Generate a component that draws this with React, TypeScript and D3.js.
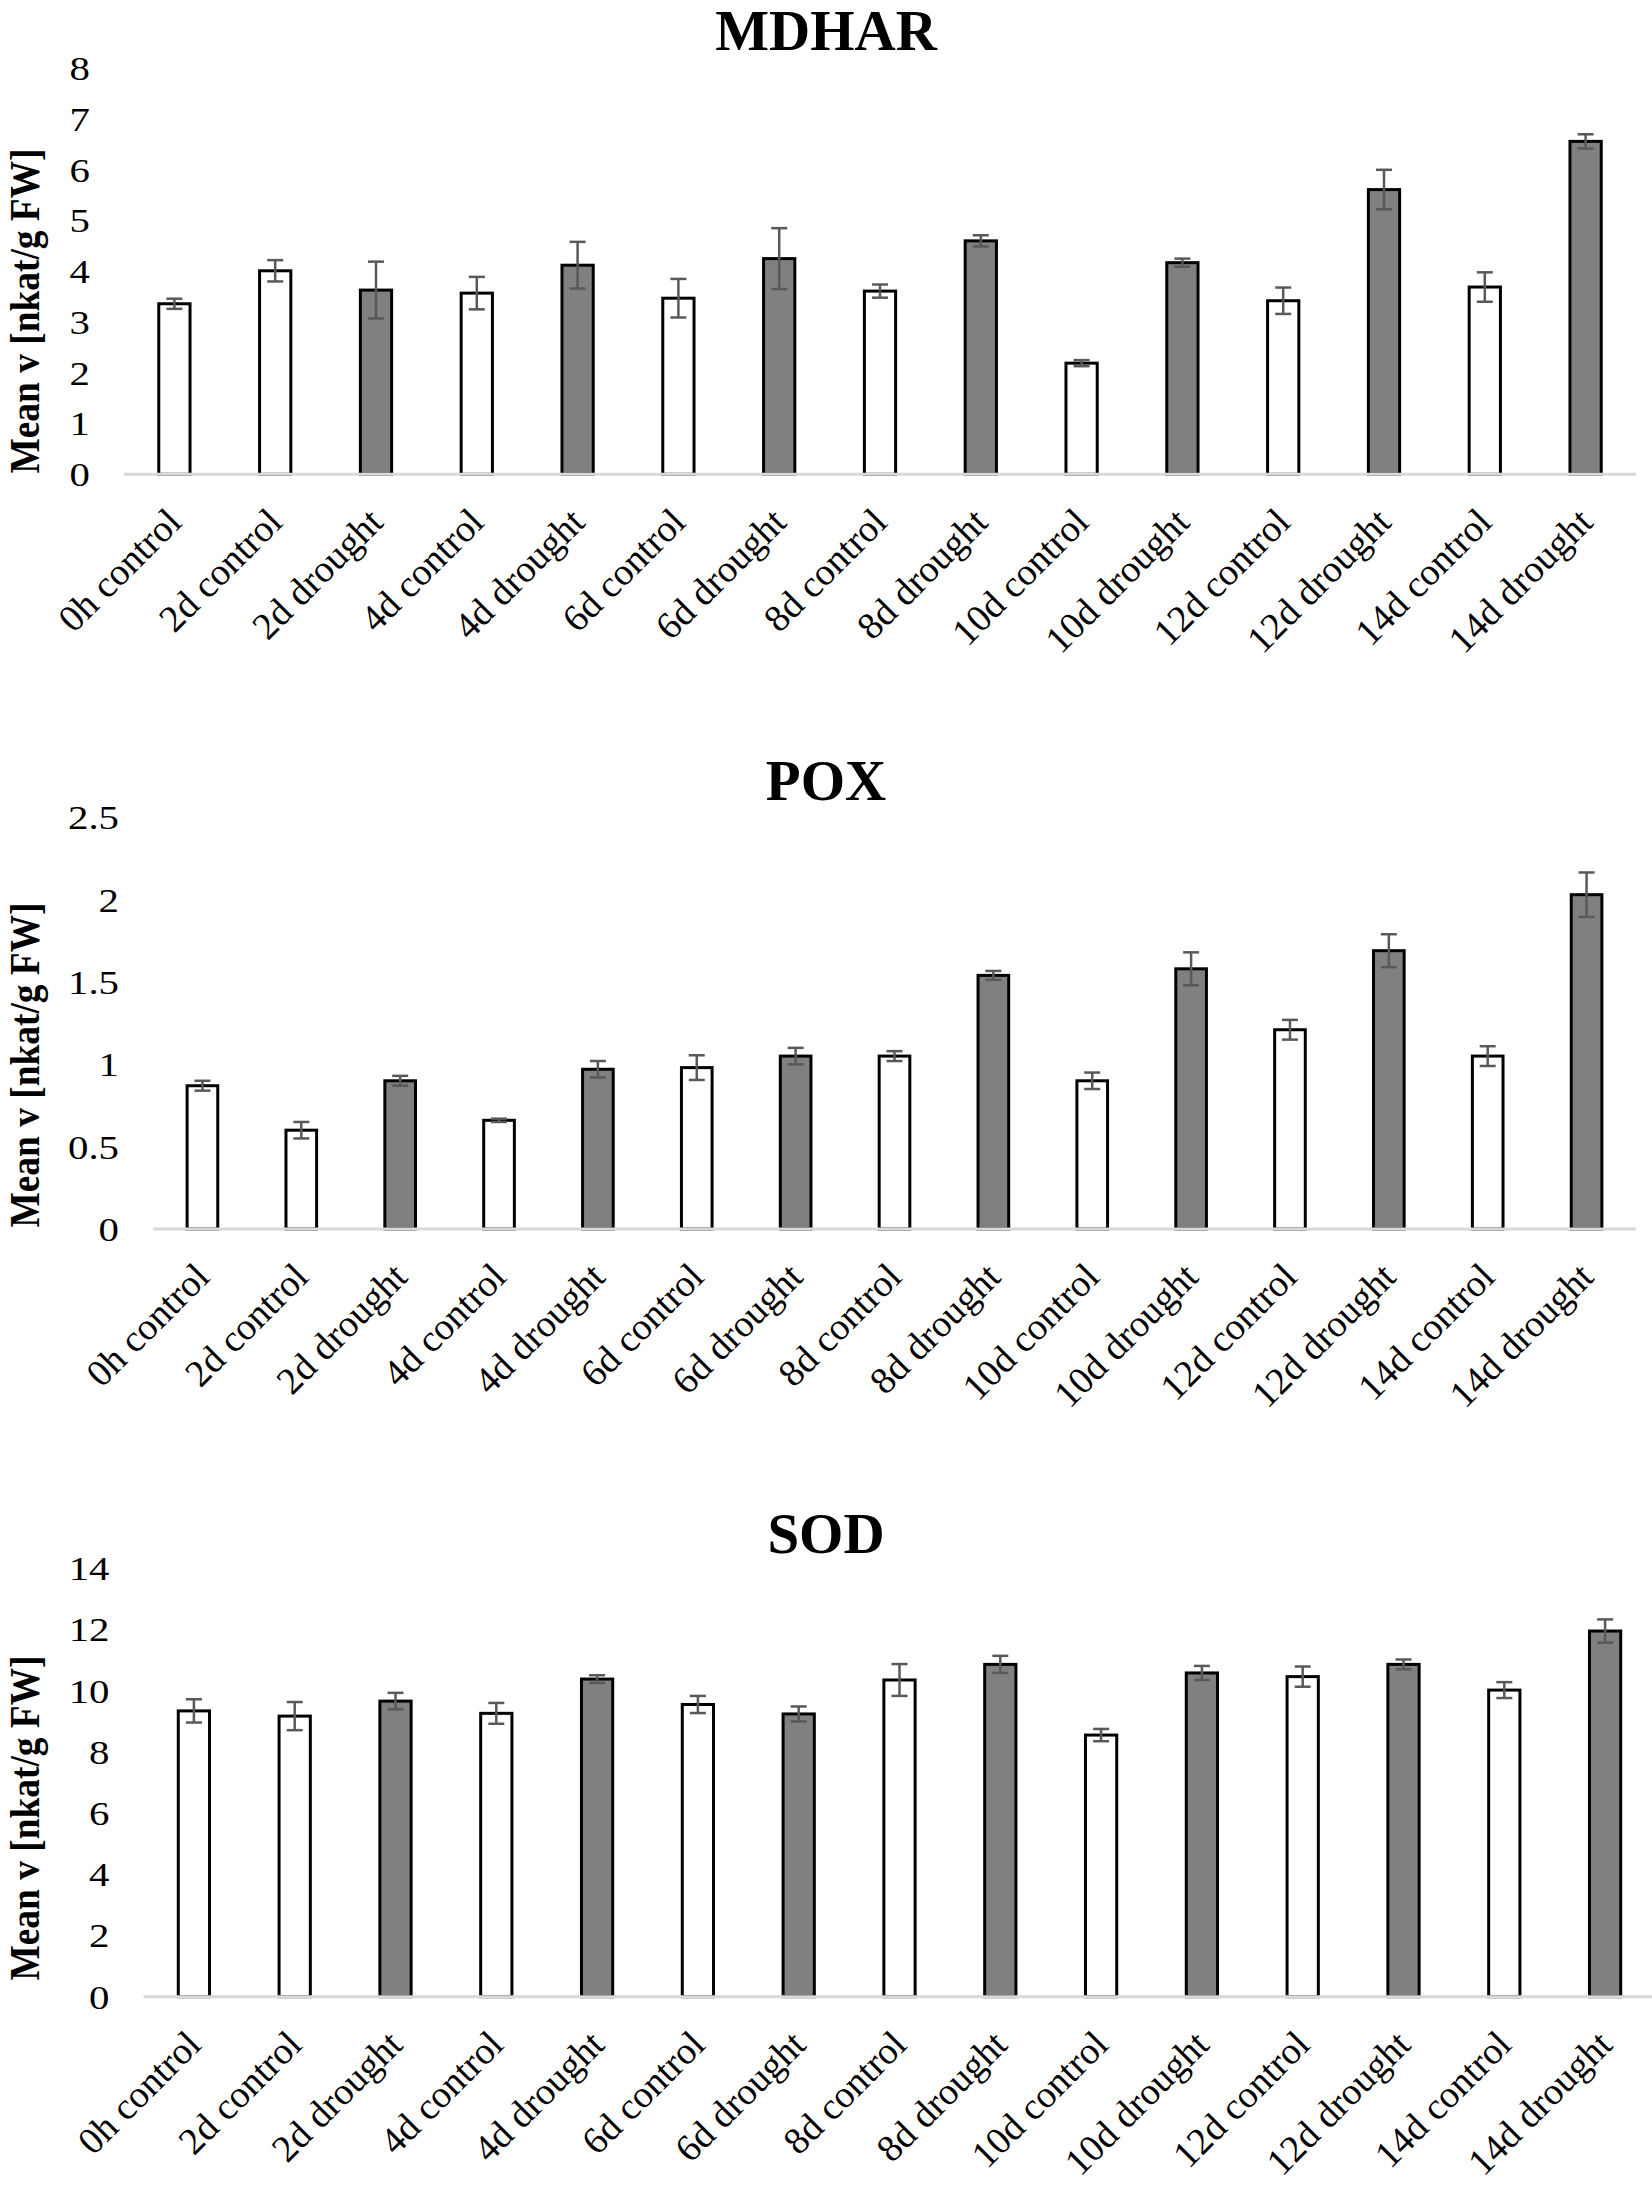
import React from 'react';
import * as d3 from 'd3';

// sampling points (same for all three enzymes)
const categories = [
  '0h control', '2d control', '2d drought', '4d control', '4d drought',
  '6d control', '6d drought', '8d control', '8d drought', '10d control',
  '10d drought', '12d control', '12d drought', '14d control', '14d drought',
];

const mdharMean = [3.36, 4.01, 3.63, 3.57, 4.12, 3.47, 4.25, 3.61, 4.6, 2.19, 4.17, 3.42, 5.61, 3.69, 6.56];
const mdharErr = [0.1, 0.21, 0.56, 0.32, 0.46, 0.38, 0.6, 0.13, 0.11, 0.06, 0.08, 0.26, 0.39, 0.29, 0.14];

const poxMean = [0.87, 0.6, 0.9, 0.66, 0.97, 0.98, 1.05, 1.05, 1.54, 0.9, 1.58, 1.21, 1.69, 1.05, 2.03];
const poxErr = [0.03, 0.05, 0.03, 0.01, 0.05, 0.075, 0.05, 0.03, 0.027, 0.05, 0.1, 0.06, 0.1, 0.06, 0.135];

const sodMean = [9.34, 9.17, 9.66, 9.26, 10.38, 9.55, 9.24, 10.35, 10.86, 8.55, 10.58, 10.46, 10.86, 10.02, 11.95];
const sodErr = [0.38, 0.46, 0.27, 0.34, 0.125, 0.28, 0.245, 0.52, 0.28, 0.2, 0.23, 0.33, 0.16, 0.26, 0.38];

const mdharTicks = [0, 1, 2, 3, 4, 5, 6, 7, 8];
const poxTicks = [0, 0.5, 1, 1.5, 2, 2.5];
const sodTicks = [0, 2, 4, 6, 8, 10, 12, 14];

const yTitle = 'Mean v [nkat/g FW]';
const FONT = '"Liberation Serif", "Times New Roman", serif';

interface Layout {
  titleY: number;
  x0: number;
  x1: number;
  base: number;
  top: number;
  labelY: number;
}

interface PanelProps {
  title: string;
  means: number[];
  errs: number[];
  ticks: number[];
  layout: Layout;
}

const Panel: React.FC<PanelProps> = ({ title, means, errs, ticks, layout }) => {
  const x = d3.scaleBand<string>()
    .domain(categories)
    .range([layout.x0, layout.x1])
    .paddingInner(0.69)
    .paddingOuter(0.345);

  const y = d3.scaleLinear()
    .domain([0, ticks[ticks.length - 1]])
    .range([layout.base, layout.top]);

  const fmt = d3.format('');
  const bw = x.bandwidth();
  const capW = 16;

  return (
    <g>
      <text x={826} y={layout.titleY} textAnchor="middle" fontFamily={FONT}
        fontWeight="bold" fontSize={57}>{title}</text>

      {/* y title, the source squeezes it along its length */}
      <text transform={`translate(39,${layout.labelY}) rotate(-90)`} textAnchor="middle"
        fontFamily={FONT} fontWeight="bold" fontSize={43}
        textLength={325} lengthAdjust="spacingAndGlyphs">{yTitle}</text>

      {/* tick labels (a bit wide in the source) */}
      {ticks.map(t => (
        <text key={t} transform={`translate(${layout.x0 - 34},${y(t)}) scale(1.2,1)`} dy="0.35em"
          textAnchor="end" fontFamily={FONT} fontSize={34}>{fmt(t)}</text>
      ))}

      {/* bars */}
      {categories.map((c, i) => (
        <rect key={c} x={x(c)} y={y(means[i])} width={bw} height={y(0) - y(means[i])}
          fill={c.includes('drought') ? '#808080' : '#ffffff'}
          stroke="#000" strokeWidth={3} />
      ))}

      {/* axis line */}
      <line x1={layout.x0} x2={layout.x1} y1={y(0)} y2={y(0)} stroke="#d9d9d9" strokeWidth={3} />

      {/* error bars */}
      {categories.map((c, i) => {
        const cx = (x(c) as number) + bw / 2;
        const lo = y(means[i] - errs[i]);
        const hi = y(means[i] + errs[i]);
        return (
          <g key={c} stroke="#595959" strokeWidth={2.5}>
            <line x1={cx} x2={cx} y1={lo} y2={hi} />
            <line x1={cx - capW / 2} x2={cx + capW / 2} y1={lo} y2={lo} />
            <line x1={cx - capW / 2} x2={cx + capW / 2} y1={hi} y2={hi} />
          </g>
        );
      })}

      {/* category labels */}
      {categories.map(c => {
        const cx = (x(c) as number) + bw / 2;
        return (
          <text key={c} transform={`translate(${cx + 9},${y(0) + 50}) rotate(-45)`}
            textAnchor="end" fontFamily={FONT} fontSize={38}>{c}</text>
        );
      })}
    </g>
  );
};

export default function App() {
  return (
    <svg width={1652} height={2191} style={{ position: 'absolute', left: 0, top: 0, background: '#fff' }}>
      <rect width={1652} height={2191} fill="#fff" />
      <Panel title="MDHAR" means={mdharMean} errs={mdharErr} ticks={mdharTicks}
        layout={{ titleY: 50, x0: 124, x1: 1636, base: 474.3, top: 68.3, labelY: 311 }} />
      <Panel title="POX" means={poxMean} errs={poxErr} ticks={poxTicks}
        layout={{ titleY: 800, x0: 153, x1: 1636, base: 1229, top: 817.3, labelY: 1065 }} />
      <Panel title="SOD" means={sodMean} errs={sodErr} ticks={sodTicks}
        layout={{ titleY: 1553, x0: 143.5, x1: 1655.5, base: 1996.7, top: 1568.3, labelY: 1818 }} />
    </svg>
  );
}
